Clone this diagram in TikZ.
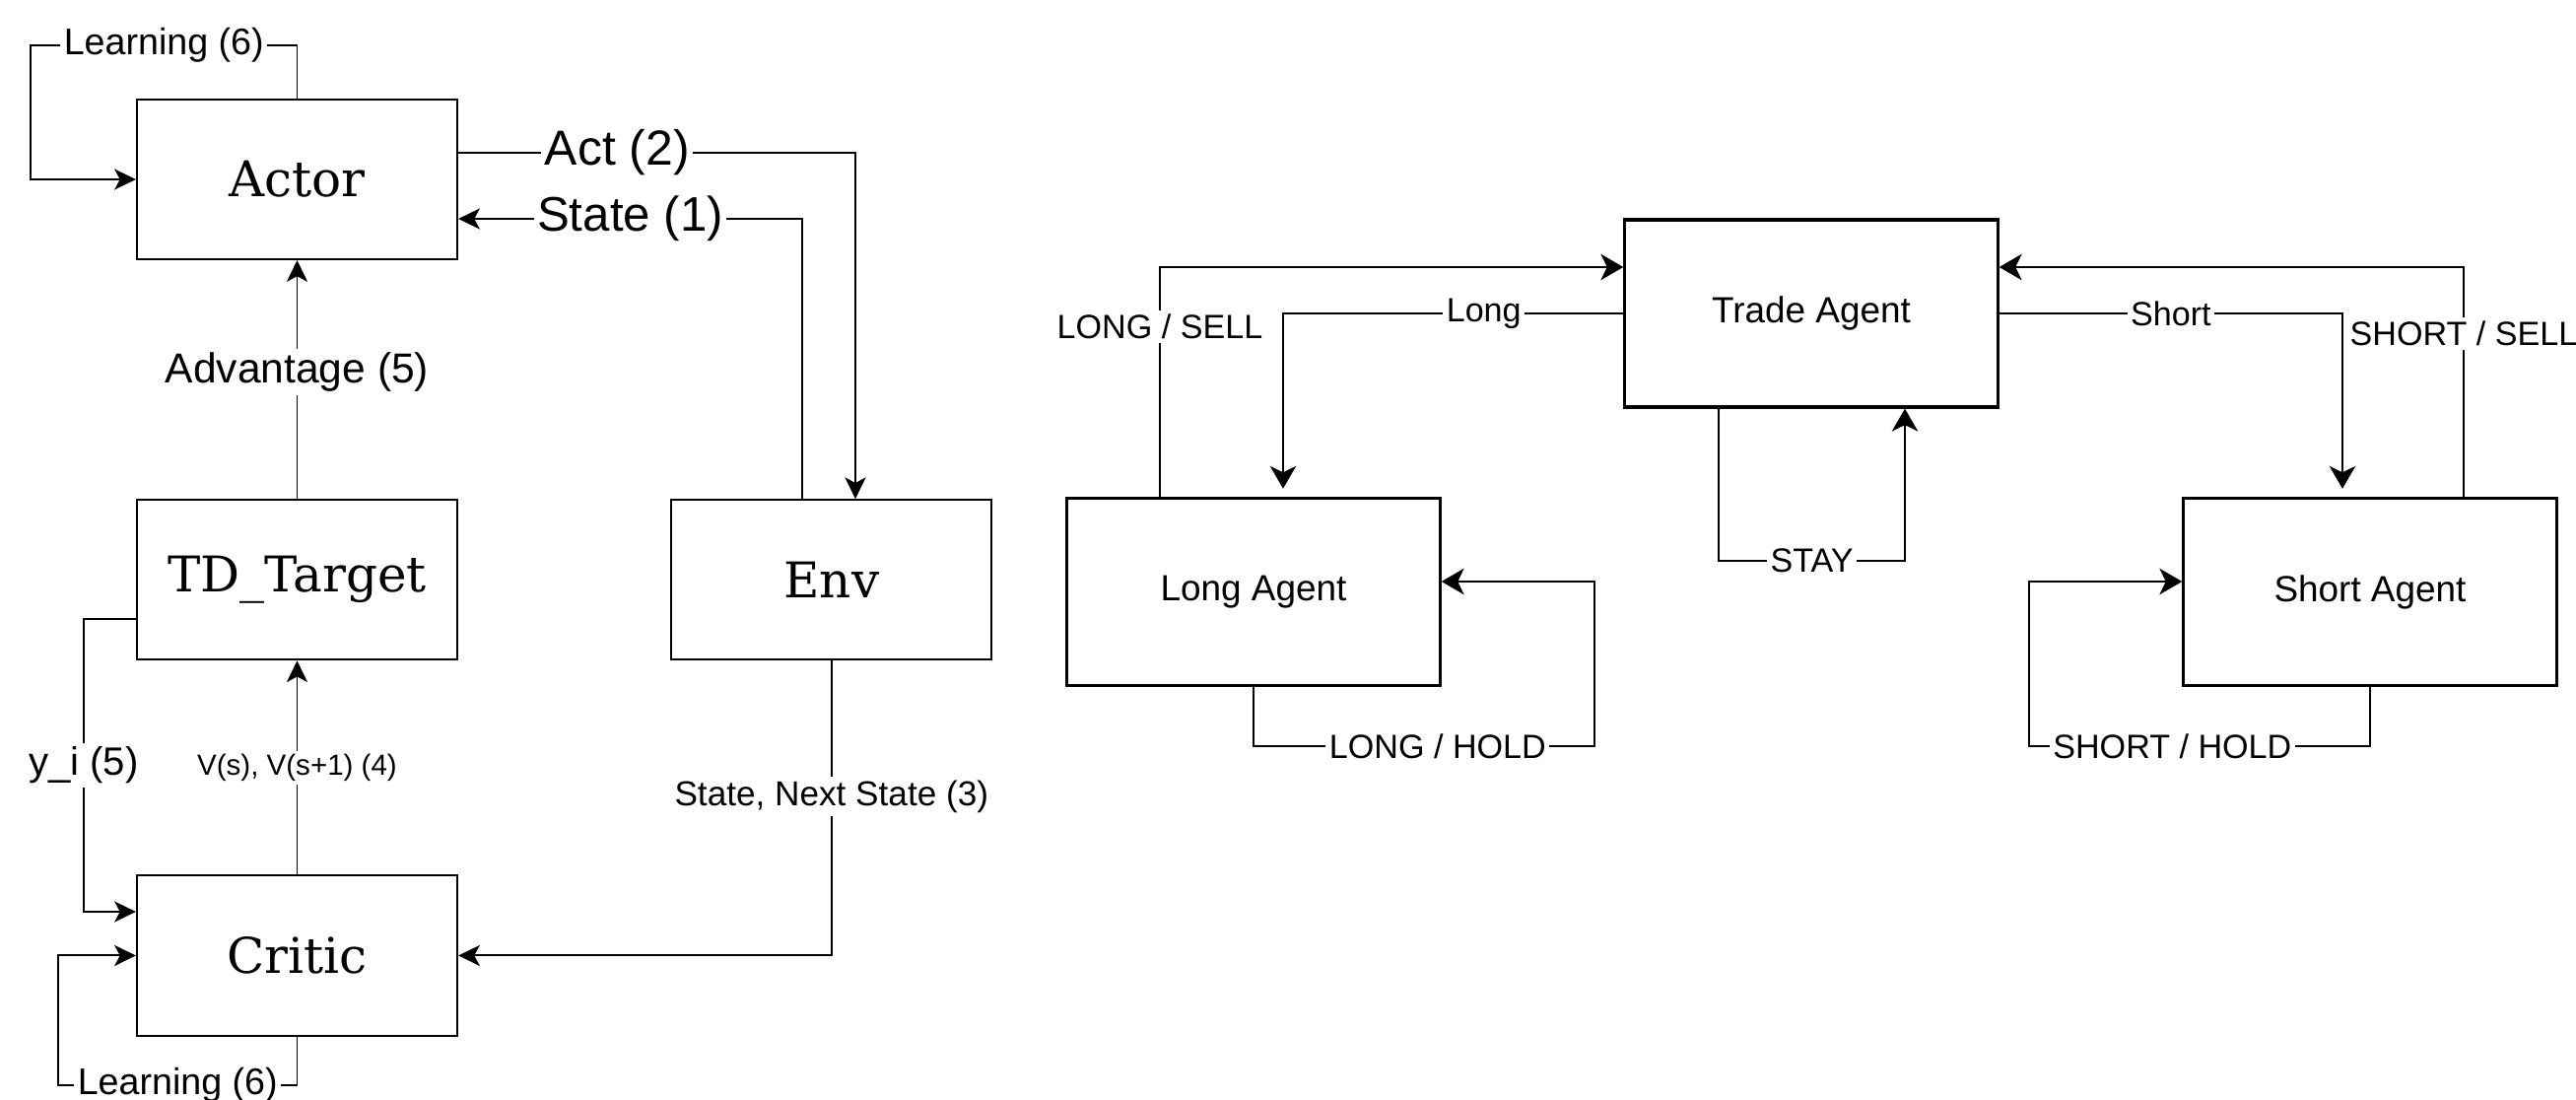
\documentclass[tikz,border=0pt]{standalone}
\usepackage{fontspec}
\setmainfont{Liberation Sans}
\newfontfamily\serifbox{DejaVu Serif}
\usetikzlibrary{arrows.meta,positioning}
\tikzset{
    abox/.style={
        draw,
        line width=0.57pt,
        minimum width=3.25cm,
        minimum height=1.62cm,
        font=\serifbox\fontsize{14.2}{16}\selectfont
    },
    agent/.style={
        draw,
        line width=0.9pt,
        minimum width=3.78cm,
        minimum height=1.9cm,
        font=\fontsize{10.5}{12}\selectfont
    },
    flow/.style={-{Stealth[length=6.2pt,width=6pt,inset=1.6pt]}, line width=0.55pt},
    rflow/.style={-{Stealth[length=6.5pt,width=7.5pt,inset=1.8pt]}, line width=0.8pt},
    lbl/.style={fill=white, inner sep=1pt, font=\fontsize{#1}{#1}\selectfont},
    lbl/.default=9.7
}

\begin{document}
\begin{tikzpicture}[x=0.01cm, y=-0.01cm]
    \useasboundingbox (0,0) rectangle (2614,1116);

    % actor-critic loop
    \node[abox] (actor) at (301.5,182) {Actor};
    \node[abox, below=2.42cm of actor] (tdt) {TD\_Target};
    \node[abox, below=2.17cm of tdt] (critic) {Critic};
    \node[abox, right=2.15cm of tdt] (env) {Env};

    \coordinate (actloop) at (31,46);
    \coordinate (actbend) at (868,155);
    \coordinate (statebend) at (814,222);
    \coordinate (yitop) at (85,628);
    \coordinate (yibot) at (85,925);
    \coordinate (critloop) at (59,1101);

    \draw[flow] (actor.north) |- node[lbl=10.7, pos=0.75]{Learning (6)} (actloop) |- (actor.west);
    \draw[flow] (actor.east |- actbend) -- node[lbl=14.2, pos=0.4]{Act (2)} (actbend) -- (actbend |- env.north);
    \draw[flow] (statebend |- env.north) -- (statebend) -- node[lbl=14, pos=0.5]{State (1)} (actor.east |- statebend);
    \draw[flow] (tdt.north) -- node[lbl=12.1, pos=0.53]{Advantage (5)} (actor.south);
    \draw[flow] (critic.north) -- node[lbl=8.4]{V(s), V(s+1) (4)} (tdt.south);
    \draw[flow] (tdt.west |- yitop) -- (yitop) -- node[lbl=11.4]{y\_i (5)} (yibot) -- (critic.west |- yibot);
    \draw[flow] (critic.south) |- node[lbl=10.7, pos=0.75]{Learning (6)} (critloop) |- (critic.west);
    \draw[flow] (env.south) |- node[lbl=10, pos=0.23]{State, Next State (3)} (critic.east);

    % trade agents
    \node[agent] (trade) at (1838,318) {Trade Agent};
    \node[agent] (longa) at (1272,600.5) {Long Agent};
    \node[agent] (shorta) at (2405,600.5) {Short Agent};

    \coordinate (lsbend) at (1177,271);
    \coordinate (lbend) at (1302,318);
    \coordinate (sbend) at (2377,318);
    \coordinate (ssbend) at (2500,271);
    \coordinate (stayl) at (1744,569);
    \coordinate (stayr) at (1933,569);
    \coordinate (lhbot) at (1618,757);
    \coordinate (lhtop) at (1618,590);
    \coordinate (shbot) at (2059,757);
    \coordinate (shtop) at (2059,590);

    \draw[rflow] (longa.north -| lsbend) -- node[lbl, pos=0.74]{LONG / SELL} (lsbend) -- (trade.west |- lsbend);
    \draw[rflow, shorten >=2.3pt] (trade.west) -- node[lbl, pos=0.41]{Long} (lbend) -- (lbend |- longa.north);
    \draw[rflow, shorten >=2.3pt] (trade.east) -- node[lbl]{Short} (sbend) -- (sbend |- shorta.north);
    \draw[rflow] (shorta.north -| ssbend) -- node[lbl, pos=0.71]{SHORT / SELL} (ssbend) -- (trade.east |- ssbend);
    \draw[rflow] (trade.south -| stayl) -- (stayl) -- node[lbl]{STAY} (stayr) -- (trade.south -| stayr);
    \draw[rflow] (longa.south) |- node[lbl, pos=0.77]{LONG / HOLD} (lhbot) -- (lhtop) -- (longa.east |- lhtop);
    \draw[rflow] (shorta.south) |- node[lbl, pos=0.79]{SHORT / HOLD} (shbot) -- (shtop) -- (shorta.west |- shtop);
\end{tikzpicture}
\end{document}
